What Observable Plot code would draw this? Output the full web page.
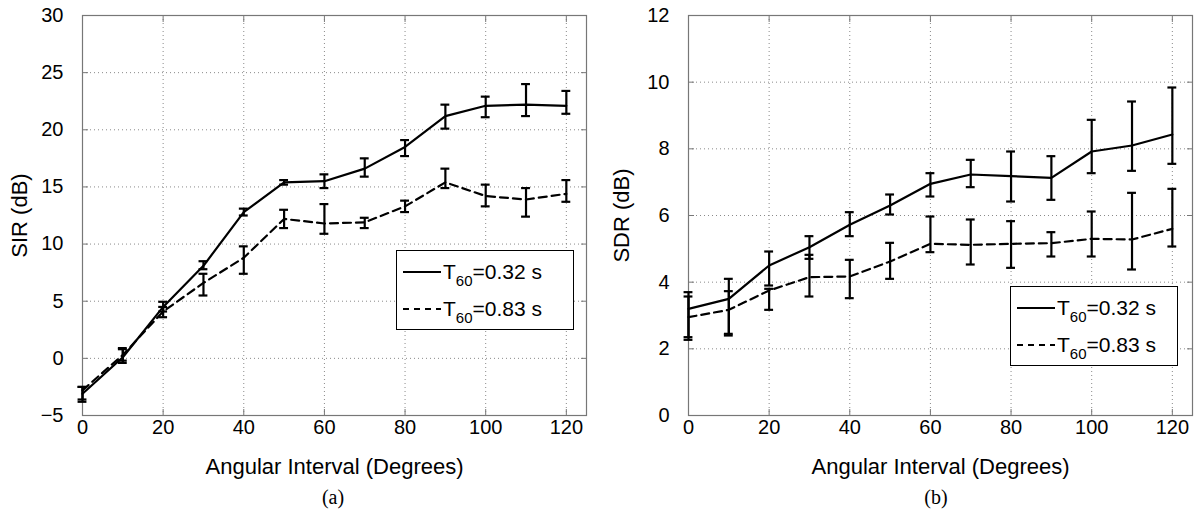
<!DOCTYPE html>
<html>
<head>
<meta charset="utf-8">
<script src="https://cdn.jsdelivr.net/npm/d3@7"></script>
<script src="https://cdn.jsdelivr.net/npm/@observablehq/plot@0.6"></script>
<style>
  html, body { margin: 0; padding: 0; background: #fff; }
  #wrap { position: relative; width: 1197px; height: 516px; overflow: hidden; font-family: "Liberation Sans", Arial, sans-serif; }
  .panel { position: absolute; top: 0; }
  .legend { position: absolute; background: #fff; border: 1px solid #000; box-sizing: border-box; font-size: 21px; color: #000; }
  .legend .row { position: absolute; left: 6px; height: 30px; display: flex; align-items: center; white-space: nowrap; }
  .legend sub { font-size: 15px; vertical-align: -7px; line-height: 0; }
  .caption { position: absolute; font-family: "Liberation Serif", "DejaVu Serif", serif; font-size: 20px; color: #000; transform: translateX(-50%); }
</style>
</head>
<body>
<div id="wrap"></div>
<script>
// ---- data ----
const angles = [0, 10, 20, 30, 40, 50, 60, 70, 80, 90, 100, 110, 120];
const xTicks = [0, 20, 40, 60, 80, 100, 120];
const sirTicks = [-5, 0, 5, 10, 15, 20, 25, 30];
const sdrTicks = [0, 2, 4, 6, 8, 10, 12];

// SIR, T60 = 0.32 s
const sirShort     = [-3.1, 0.1, 4.5, 8.1, 12.8, 15.4, 15.5, 16.6, 18.5, 21.2, 22.1, 22.2, 22.1];
const sirShortLow  = [-3.8, -0.4, 4.1, 7.8, 12.5, 15.2, 14.9, 15.9, 17.7, 20.1, 21.1, 21.2, 21.4];
const sirShortHigh = [-2.5, 0.8, 4.95, 8.5, 13.1, 15.6, 16.1, 17.5, 19.1, 22.2, 22.9, 24.0, 23.4];
// SIR, T60 = 0.83 s
const sirLong      = [-2.8, 0.3, 4.1, 6.6, 8.8, 12.2, 11.8, 11.9, 13.3, 15.4, 14.2, 13.9, 14.4];
const sirLongLow   = [-3.6, -0.2, 3.6, 5.5, 7.4, 11.4, 10.9, 11.4, 12.8, 14.9, 13.3, 12.4, 13.7];
const sirLongHigh  = [-2.5, 0.9, 4.5, 7.4, 9.8, 13.0, 13.5, 12.3, 13.8, 16.6, 15.2, 14.9, 15.6];

// SDR, T60 = 0.32 s
const sdrShort     = [3.2, 3.5, 4.5, 5.05, 5.72, 6.3, 6.95, 7.23, 7.18, 7.13, 7.92, 8.1, 8.43];
const sdrShortLow  = [2.27, 2.4, 3.9, 4.7, 5.38, 6.03, 6.57, 6.85, 6.42, 6.47, 7.27, 7.34, 7.55];
const sdrShortHigh = [3.7, 4.1, 4.92, 5.38, 6.1, 6.63, 7.27, 7.67, 7.92, 7.78, 8.87, 9.42, 9.84];
// SDR, T60 = 0.83 s
const sdrLong      = [2.95, 3.17, 3.75, 4.15, 4.17, 4.62, 5.15, 5.12, 5.15, 5.17, 5.3, 5.28, 5.6];
const sdrLongLow   = [2.35, 2.45, 3.17, 3.57, 3.52, 4.1, 4.9, 4.53, 4.43, 4.77, 4.77, 4.38, 5.07];
const sdrLongHigh  = [3.57, 3.73, 3.8, 4.82, 4.67, 5.18, 5.97, 5.88, 5.83, 5.5, 6.12, 6.68, 6.8];

const seriesNames = ["T60=0.32 s", "T60=0.83 s"];

function rows(mean, low, high, name) {
  return angles.map((a, i) => ({ x: a, y: mean[i], lo: low[i], hi: high[i], series: name }));
}

const CAP = 1.1; // half-width of error-bar caps in x units

function panel({ data, yTicks, yDomain, yLabel, marginLeft, width, yLabelOffset }) {
  const marks = [
    Plot.gridX(xTicks, { stroke: "#8a8a8a", strokeOpacity: 1, strokeDasharray: "1,3" }),
    Plot.gridY(yTicks, { stroke: "#8a8a8a", strokeOpacity: 1, strokeDasharray: "1,3" }),
    Plot.frame({ stroke: "#777", strokeWidth: 1.2 }),
    // tick labels
    Plot.axisX(xTicks, { tickSize: 0, tickPadding: 4, label: null, fontSize: 20 }),
    Plot.axisY(yTicks, { tickSize: 0, tickPadding: 19, label: null, fontSize: 20 }),
    // axis titles
    Plot.axisX([], { tickSize: 0, label: "Angular Interval (Degrees)", labelAnchor: "center", labelArrow: "none", labelOffset: 58, fontSize: 22 }),
    Plot.axisY([], { tickSize: 0, label: yLabel, labelAnchor: "center", labelArrow: "none", labelOffset: yLabelOffset, fontSize: 22 }),
    // inward ticks on all four sides
    Plot.axisX(xTicks, { anchor: "bottom", tickSize: -6, tickFormat: () => "", label: null, stroke: "#777" }),
    Plot.axisX(xTicks, { anchor: "top", tickSize: -6, tickFormat: () => "", label: null, stroke: "#777" }),
    Plot.axisY(yTicks, { anchor: "left", tickSize: -6, tickFormat: () => "", label: null, stroke: "#777" }),
    Plot.axisY(yTicks, { anchor: "right", tickSize: -6, tickFormat: () => "", label: null, stroke: "#777" })
  ];
  data.forEach((d, k) => {
    marks.push(
      Plot.ruleX(d, { x: "x", y1: "lo", y2: "hi", stroke: "black", strokeWidth: 2.2 }),
      Plot.ruleY(d, { y: "lo", x1: r => r.x - CAP, x2: r => r.x + CAP, stroke: "black", strokeWidth: 2.2 }),
      Plot.ruleY(d, { y: "hi", x1: r => r.x - CAP, x2: r => r.x + CAP, stroke: "black", strokeWidth: 2.2 }),
      Plot.line(d, { x: "x", y: "y", stroke: "black", strokeWidth: 2.2, strokeDasharray: k === 1 ? "8,5" : null })
    );
  });
  return Plot.plot({
    width, height: 485,
    marginLeft, marginRight: width - marginLeft - 504, marginTop: 15, marginBottom: 70,
    x: { domain: [0, 125] },
    y: { domain: yDomain },
    style: { fontFamily: "Liberation Sans, Arial, sans-serif", fontSize: "20px", color: "black", background: "white", overflow: "visible" },
    marks
  });
}

const wrap = document.getElementById("wrap");

const left = panel({
  data: [rows(sirShort, sirShortLow, sirShortHigh, seriesNames[0]), rows(sirLong, sirLongLow, sirLongHigh, seriesNames[1])],
  yTicks: sirTicks, yDomain: [-5, 30], yLabel: "SIR (dB)", marginLeft: 82, width: 598, yLabelOffset: 71
});
left.classList.add("panel"); left.style.left = "0px";
wrap.appendChild(left);

const right = panel({
  data: [rows(sdrShort, sdrShortLow, sdrShortHigh, seriesNames[0]), rows(sdrLong, sdrLongLow, sdrLongHigh, seriesNames[1])],
  yTicks: sdrTicks, yDomain: [0, 12], yLabel: "SDR (dB)", marginLeft: 88, width: 597, yLabelOffset: 75
});
right.classList.add("panel"); right.style.left = "600px";
wrap.appendChild(right);

function legend(x, y, w, h) {
  const div = document.createElement("div");
  div.className = "legend";
  Object.assign(div.style, { left: x + "px", top: y + "px", width: w + "px", height: h + "px" });
  const labels = ["0.32", "0.83"];
  labels.forEach((lab, i) => {
    const row = document.createElement("div");
    row.className = "row";
    row.style.top = (6 + i * 37) + "px";
    row.innerHTML = `<svg width="38" height="10" style="margin-right:2px"><line x1="0" y1="5" x2="38" y2="5" stroke="black" stroke-width="2.2" ${i === 1 ? 'stroke-dasharray="6,5"' : ''}/></svg><span>T<sub>60</sub>=${lab} s</span>`;
    div.appendChild(row);
  });
  wrap.appendChild(div);
}
legend(396, 250, 178, 80);
legend(1010, 286, 168, 80);

function caption(text, cx, top) {
  const c = document.createElement("div");
  c.className = "caption";
  c.textContent = text;
  c.style.left = cx + "px";
  c.style.top = top + "px";
  wrap.appendChild(c);
}
caption("(a)", 333, 486);
caption("(b)", 936, 486);
</script>
</body>
</html>
